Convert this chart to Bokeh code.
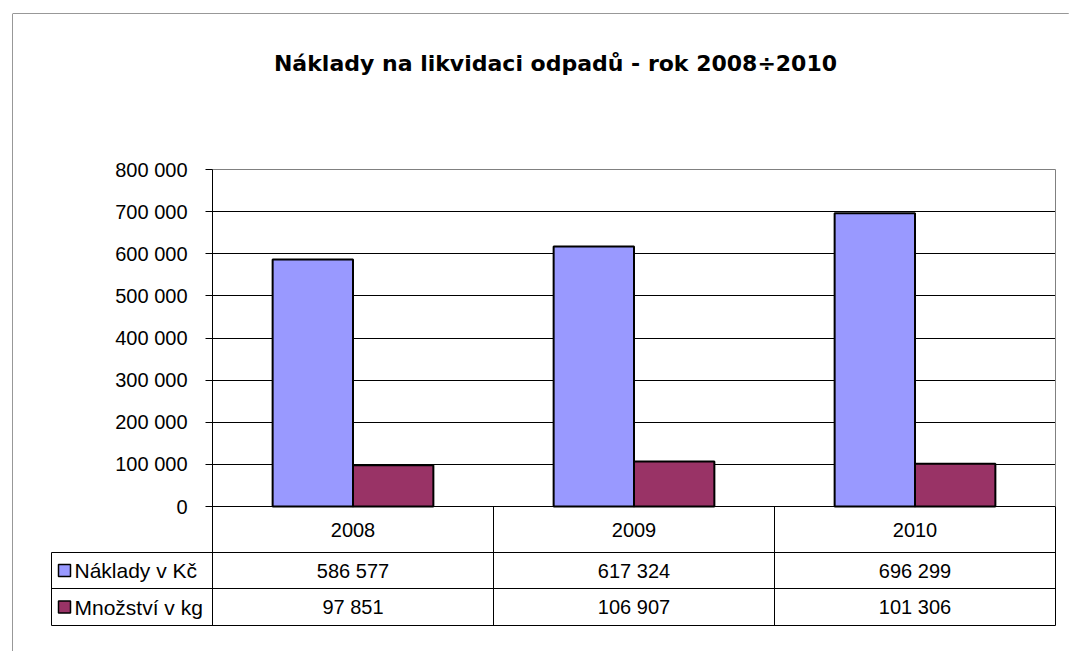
from bokeh.plotting import figure
from bokeh.models import (Range1d, FixedTicker, ColumnDataSource, Span, Grid,
                          LinearAxis)
from bokeh.transform import dodge
from bokeh.core.properties import value
from bokeh.embed import file_html
from bokeh.resources import INLINE

# ---------------- data ----------------
title_text = "Náklady na likvidaci odpadů - rok 2008÷2010"
years = ["2008", "2009", "2010"]
series_names = ["Náklady v Kč", "Množství v kg"]
naklady = [586577, 617324, 696299]
mnozstvi = [97851, 106907, 101306]
y_ticks = [0, 100000, 200000, 300000, 400000, 500000, 600000, 700000, 800000]

# ---------------- style ----------------
FONT = "Liberation Sans"
TITLE_FONT = "DejaVu Sans"
BLUE = "#9999FF"
PLUM = "#993366"
GRAY = "#808080"
BORDER = "#333333"
LABEL_SIZE = "20px"
LEGEND_SIZE = "21px"


def fmt(v):
    return f"{v:,}".replace(",", " ")


# ---------------- layout (page pixels) ----------------
CANVAS_W, CANVAS_H = 1069, 651
PAGE0 = 0                      # canvas origin on the page
FRAME_X0, FRAME_Y0 = 12, 13    # outer chart border
PLOT_X0, PLOT_X1 = 212, 1055   # plot area left / right
PLOT_TOP, PLOT_BASE = 169, 506 # plot area top / value 0
ROW_EDGES = [552, 588, 625]    # data table horizontal lines
LEG_X0 = 51                    # legend column left edge
XU = (PLOT_X1 - PLOT_X0) / len(years)
YK = y_ticks[-1] / (PLOT_BASE - PLOT_TOP)


def dx(px):
    return (px - PLOT_X0) / XU


def dy(py):
    return (PLOT_BASE - py) * YK


n = len(years)
ymax = y_ticks[-1]
BAR_W = 0.286

p = figure(width=CANVAS_W, height=CANVAS_H,
           x_range=Range1d(dx(FRAME_X0), dx(PAGE0 + CANVAS_W)),
           y_range=Range1d(dy(PAGE0 + CANVAS_H), dy(FRAME_Y0)),
           output_backend="svg", toolbar_location=None,
           min_border_left=FRAME_X0 - PAGE0, min_border_top=FRAME_Y0 - PAGE0,
           min_border_right=0, min_border_bottom=0,
           x_axis_location=None, y_axis_location=None)
p.outline_line_color = None
p.background_fill_color = "white"
p.border_fill_color = "white"
p.grid.visible = False

# outer chart border (left and top)
p.add_layout(Span(location=dx(FRAME_X0), dimension="height",
                  line_color=BORDER, line_width=1))
p.add_layout(Span(location=dy(FRAME_Y0), dimension="width",
                  line_color=BORDER, line_width=1))
# keep the canvas' right edge clean (chart continues beyond the view)
p.add_layout(Span(location=dx(PAGE0 + CANVAS_W), dimension="height",
                  line_color="white", line_width=3))

# y axis at the plot area's left edge
yax = LinearAxis(fixed_location=0, ticker=FixedTicker(ticks=y_ticks),
                 bounds=(dy(ROW_EDGES[-1]), ymax))
yax.major_label_overrides = {t: fmt(t) for t in y_ticks}
yax.major_label_text_font = FONT
yax.major_label_text_font_size = LABEL_SIZE
yax.major_label_text_color = "black"
yax.major_tick_in = 0
yax.major_tick_out = 7
yax.minor_tick_in = 0
yax.minor_tick_out = 0
yax.major_label_standoff = 18
yax.axis_line_color = "black"
yax.major_tick_line_color = "black"
p.add_layout(yax, "left")

# horizontal grid lines inside the plot area
p.add_layout(Grid(dimension=1, ticker=FixedTicker(ticks=y_ticks[:-1]),
                  cross_bounds=(0, n), grid_line_color="black",
                  grid_line_width=1))

# plot area top / right border (gray)
p.segment(x0=[0, n], y0=[ymax, 0], x1=[n, n], y1=[ymax, ymax],
          line_color=GRAY, line_width=1)

# data table lines
row_y = [dy(r) for r in ROW_EDGES]
p.segment(x0=[dx(LEG_X0)] * len(row_y), y0=row_y,
          x1=[n] * len(row_y), y1=row_y, line_color="black", line_width=1)
col_edges = [i + 1 for i in range(n)]
p.segment(x0=col_edges, y0=[row_y[-1]] * n, x1=col_edges, y1=[0] * n,
          line_color="black", line_width=1)
p.segment(x0=[dx(LEG_X0)], y0=[row_y[0]], x1=[dx(LEG_X0)], y1=[row_y[-1]],
          line_color="black", line_width=1)

# bars
xs = [i + 0.5 for i in range(n)]
src = ColumnDataSource(dict(x=xs, year=years, naklady=naklady,
                            mnozstvi=mnozstvi,
                            naklady_lbl=[fmt(v) for v in naklady],
                            mnozstvi_lbl=[fmt(v) for v in mnozstvi]))
p.vbar(x=dodge("x", -BAR_W / 2), top="naklady", width=BAR_W, source=src,
       fill_color=BLUE, line_color="black", line_width=2)
p.vbar(x=dodge("x", BAR_W / 2), top="mnozstvi", width=BAR_W, source=src,
       fill_color=PLUM, line_color="black", line_width=2)

# data table texts
row_centers = [dy((PLOT_BASE + ROW_EDGES[0]) / 2),
               dy((ROW_EDGES[0] + ROW_EDGES[1]) / 2),
               dy((ROW_EDGES[1] + ROW_EDGES[2]) / 2)]
for col, yc in zip(["year", "naklady_lbl", "mnozstvi_lbl"], row_centers):
    p.text(x="x", y=yc, text=col, source=src, text_font=value(FONT),
           text_font_size=LABEL_SIZE, text_color="black",
           text_align="center", text_baseline="middle")

for name, color, yc in zip(series_names, [BLUE, PLUM], row_centers[1:]):
    p.rect(x=[dx(64)], y=[yc], width=12, height=12, width_units="screen",
           height_units="screen", fill_color=color, line_color="black",
           line_width=1.5)
    p.text(x=[dx(74)], y=[yc], text=[name], text_font=value(FONT),
           text_font_size=LEGEND_SIZE, text_color="black",
           text_align="left", text_baseline="middle")

# title
p.text(x=[dx(555)], y=[dy(63)], text=[title_text],
       text_font=value(TITLE_FONT), text_font_size="22px",
       text_font_style="bold", text_color="black",
       text_align="center", text_baseline="alphabetic")

open("out.html", "w").write(file_html(p, INLINE))
